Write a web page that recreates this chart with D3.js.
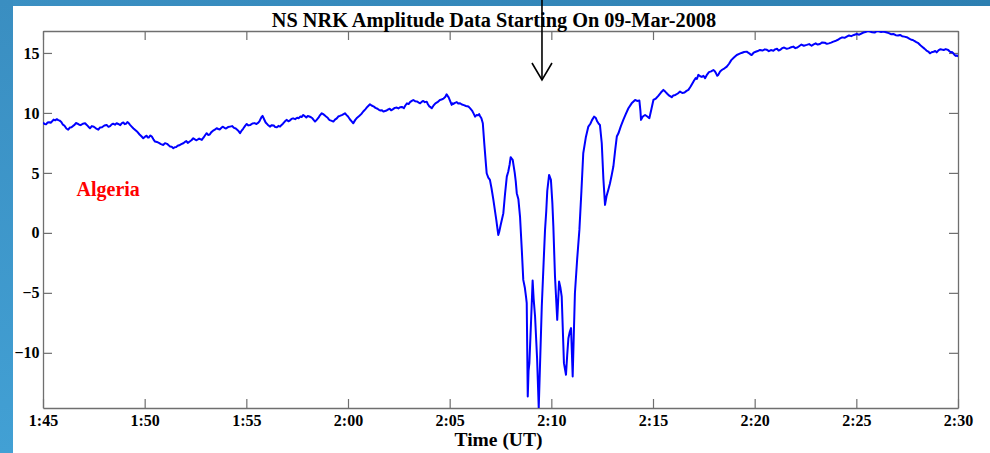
<!DOCTYPE html>
<html>
<head>
<meta charset="utf-8">
<script src="https://cdn.jsdelivr.net/npm/d3@7"></script>
<style>
  html, body { margin: 0; padding: 0; background: #ffffff; }
  svg { display: block; }
</style>
</head>
<body>
<svg id="chart" width="990" height="453"></svg>
<script>
// NS NRK amplitude record, 09-Mar-2008, 01:45 - 02:30 UT
const titleText = "NS NRK Amplitude Data Starting On 09-Mar-2008";
const stationLabel = "Algeria";
const xAxisTitle = "Time (UT)";
const startTime = "2008-03-09T01:45:00Z";
const spanMinutes = 45;
const yTicks = [-10, -5, 0, 5, 10, 15];
const yRange = [-14.6, 16.83];
const arrowMinute = 24.54;   // event marker, minutes after start

// minutes after 01:45 UT
const offsetMinutes = [
  0.00, 0.08, 0.15, 0.22, 0.30, 0.38, 0.45, 0.52, 0.60, 0.68,
  0.75, 0.82, 0.90, 0.98, 1.05, 1.15, 1.24, 1.32, 1.40, 1.48,
  1.55, 1.62, 1.70, 1.78, 1.85, 1.96, 2.07, 2.14, 2.20, 2.26,
  2.31, 2.40, 2.50, 2.60, 2.72, 2.80, 2.90, 3.02, 3.13, 3.22,
  3.30, 3.38, 3.45, 3.54, 3.62, 3.70, 3.80, 3.88, 3.95, 4.02,
  4.10, 4.15, 4.20, 4.28, 4.36, 4.45, 4.55, 4.65, 4.75, 4.84,
  4.93, 5.02, 5.10, 5.15, 5.20, 5.28, 5.35, 5.43, 5.51, 5.60,
  5.70, 5.80, 5.92, 6.00, 6.10, 6.18, 6.25, 6.33, 6.41, 6.48,
  6.55, 6.62, 6.70, 6.80, 6.90, 6.98, 7.05, 7.12, 7.20, 7.30,
  7.39, 7.47, 7.55, 7.68, 7.81, 7.86, 7.90, 7.98, 8.05, 8.12,
  8.20, 8.28, 8.35, 8.45, 8.54, 8.62, 8.70, 8.78, 8.85, 8.92,
  9.00, 9.10, 9.20, 9.30, 9.40, 9.48, 9.55, 9.62, 9.69, 9.78,
  9.85, 9.94, 10.02, 10.10, 10.20, 10.30, 10.40, 10.50, 10.59, 10.65,
  10.70, 10.75, 10.80, 10.88, 10.95, 11.05, 11.16, 11.25, 11.35, 11.42,
  11.50, 11.58, 11.66, 11.72, 11.80, 11.90, 11.99, 12.07, 12.15, 12.22,
  12.30, 12.40, 12.50, 12.58, 12.65, 12.72, 12.80, 12.88, 12.95, 13.02,
  13.10, 13.18, 13.25, 13.32, 13.38, 13.46, 13.55, 13.62, 13.71, 13.78,
  13.85, 13.92, 14.00, 14.05, 14.10, 14.20, 14.28, 14.36, 14.45, 14.52,
  14.60, 14.72, 14.85, 14.92, 15.00, 15.05, 15.10, 15.18, 15.26, 15.35,
  15.45, 15.55, 15.65, 15.75, 15.85, 15.96, 16.08, 16.16, 16.25, 16.35,
  16.45, 16.52, 16.60, 16.67, 16.74, 16.82, 16.90, 16.98, 17.05, 17.12,
  17.20, 17.30, 17.40, 17.48, 17.56, 17.65, 17.75, 17.82, 17.90, 17.98,
  18.05, 18.12, 18.21, 18.30, 18.40, 18.48, 18.55, 18.62, 18.70, 18.78,
  18.87, 18.93, 19.00, 19.06, 19.12, 19.20, 19.30, 19.40, 19.52, 19.60,
  19.70, 19.78, 19.85, 19.90, 19.95, 20.02, 20.10, 20.14, 20.18, 20.26,
  20.35, 20.42, 20.51, 20.60, 20.70, 20.80, 20.92, 21.00, 21.10, 21.18,
  21.25, 21.32, 21.40, 21.45, 21.49, 21.56, 21.63,
  21.70, 21.78, 21.82, 21.90, 21.98, 22.06, 22.15, 22.30, 22.39, 22.44,
  22.50, 22.64, 22.72, 22.81, 22.88, 22.95, 23.00, 23.05, 23.10, 23.20,
  23.25, 23.30, 23.38, 23.46, 23.55, 23.62, 23.70, 23.76, 23.79, 23.84,
  23.88, 23.92, 24.00, 24.08, 24.13, 24.20, 24.30, 24.38, 24.53, 24.62,
  24.69, 24.75, 24.80, 24.89, 24.98, 25.05, 25.10, 25.18, 25.29, 25.38,
  25.45, 25.51, 25.62, 25.72, 25.78, 25.84, 25.90, 25.97, 26.05, 26.16,
  26.27, 26.38, 26.48, 26.57, 26.70, 26.82, 26.92, 27.00, 27.10, 27.18,
  27.26, 27.33, 27.39, 27.48, 27.56, 27.64, 27.72, 27.80, 27.88, 27.97,
  28.05, 28.14, 28.22, 28.30, 28.42, 28.54, 28.66, 28.79, 28.95,
  29.12, 29.22, 29.33, 29.38, 29.41, 29.50, 29.61, 29.72, 29.82, 29.92,
  30.02, 30.14, 30.25, 30.38, 30.51, 30.60, 30.70, 30.80, 30.92, 31.00,
  31.10, 31.22, 31.33, 31.44, 31.55, 31.65, 31.74, 31.85, 31.95, 32.02,
  32.10, 32.16, 32.23, 32.32, 32.40, 32.48, 32.56, 32.66, 32.75, 32.86,
  32.97, 33.04, 33.10, 33.16, 33.21, 33.30, 33.40, 33.52, 33.63, 33.74,
  33.85, 33.98, 34.12, 34.24, 34.35, 34.48, 34.61, 34.68, 34.75, 34.80,
  34.85, 34.95, 35.05, 35.15, 35.26, 35.38, 35.50, 35.60, 35.70, 35.80,
  35.92, 36.00, 36.10, 36.18, 36.25, 36.35, 36.45, 36.58, 36.70, 36.80,
  36.90, 37.00, 37.10, 37.20, 37.30, 37.42, 37.56, 37.68, 37.80, 37.90,
  38.00, 38.10, 38.21, 38.32, 38.45, 38.55, 38.65, 38.76, 38.87, 39.00,
  39.10, 39.20, 39.30, 39.42, 39.53, 39.64, 39.75, 39.88, 40.02, 40.14,
  40.25, 40.35, 40.45, 40.56, 40.67, 40.78, 40.90, 41.00, 41.10, 41.22,
  41.33, 41.46, 41.60, 41.70, 41.82, 41.94, 42.05, 42.15, 42.25, 42.36,
  42.48, 42.60, 42.70, 42.78, 42.85, 42.95, 43.05, 43.15, 43.25, 43.35,
  43.45, 43.54, 43.62, 43.70, 43.80, 43.88, 43.95, 44.04, 44.12, 44.20,
  44.30, 44.40, 44.52, 44.58, 44.65, 44.70, 44.77, 44.84, 44.90, 44.95,
  45.00
];

const amplitude = [
  9.19, 9.08, 9.05, 9.20, 9.22, 9.18, 9.30, 9.44, 9.38, 9.48,
  9.40, 9.36, 9.25, 9.02, 8.95, 8.70, 8.60, 8.78, 8.80, 8.92,
  9.00, 9.16, 9.10, 9.02, 8.98, 9.10, 9.14, 9.02, 8.92, 8.80,
  8.72, 8.90, 8.85, 8.72, 8.60, 8.78, 8.80, 8.95, 9.00, 8.84,
  8.90, 9.05, 9.10, 9.02, 9.14, 9.08, 8.98, 9.15, 9.20, 9.06,
  9.12, 9.24, 9.18, 9.00, 8.86, 8.70, 8.55, 8.40, 8.20, 8.05,
  7.89, 8.02, 8.10, 7.96, 7.95, 8.12, 8.03, 7.80, 7.61, 7.58,
  7.50, 7.40, 7.33, 7.48, 7.42, 7.30, 7.20, 7.18, 7.06, 7.14,
  7.15, 7.26, 7.30, 7.40, 7.47, 7.58, 7.65, 7.50, 7.60, 7.72,
  7.89, 7.80, 7.72, 7.86, 7.75, 7.88, 7.95, 8.16, 8.31, 8.16,
  8.20, 8.40, 8.50, 8.60, 8.72, 8.66, 8.62, 8.78, 8.85, 8.76,
  8.70, 8.82, 8.86, 8.90, 8.75, 8.70, 8.60, 8.48, 8.31, 8.55,
  8.70, 8.92, 9.08, 8.96, 9.00, 9.12, 9.15, 9.08, 9.19, 9.32,
  9.50, 9.66, 9.75, 9.45, 9.20, 9.02, 8.86, 8.98, 8.95, 8.82,
  8.80, 8.92, 8.86, 8.98, 9.10, 9.30, 9.42, 9.30, 9.38, 9.50,
  9.55, 9.48, 9.60, 9.56, 9.70, 9.66, 9.83, 9.72, 9.62, 9.74,
  9.70, 9.64, 9.55, 9.40, 9.28, 9.42, 9.60, 9.80, 9.97, 9.90,
  9.80, 9.70, 9.60, 9.48, 9.40, 9.34, 9.28, 9.44, 9.55, 9.70,
  9.75, 9.84, 9.97, 9.84, 9.70, 9.58, 9.45, 9.30, 9.14, 9.40,
  9.60, 9.74, 9.90, 10.12, 10.30, 10.52, 10.72, 10.62, 10.55, 10.42,
  10.35, 10.26, 10.20, 10.22, 10.11, 10.16, 10.20, 10.30, 10.35, 10.22,
  10.30, 10.42, 10.45, 10.38, 10.47, 10.50, 10.40, 10.62, 10.80, 10.74,
  10.90, 10.98, 11.08, 10.98, 10.95, 10.86, 10.80, 10.92, 11.00, 10.90,
  10.94, 10.72, 10.55, 10.48, 10.39, 10.60, 10.80, 10.90, 11.08, 11.12,
  11.20, 11.32, 11.55, 11.42, 11.30, 11.00, 10.67, 10.80, 10.75, 10.84,
  10.90, 10.78, 10.81, 10.70, 10.65, 10.58, 10.53, 10.40, 10.20, 9.94,
  9.69, 9.82, 9.80, 9.90, 9.75, 9.55, 9.14,
  7.50, 5.80, 4.97, 4.60, 4.42, 3.70, 2.75, 1.00, -0.17, 0.10,
  0.60, 1.64, 3.20, 4.69, 5.10, 5.70, 6.31, 6.20, 6.08, 5.00,
  4.30, 3.31, 2.80, 1.36, -1.50, -3.92, -4.60, -5.40, -5.86, -13.64,
  -11.50, -10.86, -7.50, -3.97, -5.50, -6.97, -10.50, -14.60, -6.14, -2.50,
  0.25, 1.80, 3.50, 4.83, 4.42, 2.50, 0.50, -3.64, -7.25, -4.06,
  -4.60, -5.31, -10.86, -11.83, -10.20, -8.78, -8.30, -7.94, -11.97, -5.03,
  -2.20, 0.25, 3.50, 6.64, 8.00, 8.86, 9.10, 9.40, 9.69, 9.60,
  9.28, 9.10, 9.00, 7.47, 4.50, 2.33, 3.10, 3.58, 4.10, 4.83,
  5.53, 6.90, 8.03, 8.30, 8.90, 9.42, 9.90, 10.39, 10.80,
  11.08, 11.00, 11.03, 10.20, 9.42, 9.70, 9.83, 9.70, 9.56, 10.30,
  11.08, 11.20, 11.40, 11.68, 11.92, 11.78, 11.60, 11.44, 11.31, 11.46,
  11.50, 11.62, 11.78, 11.66, 11.70, 11.84, 11.92, 12.20, 12.50, 12.70,
  12.90, 12.84, 13.17, 13.06, 13.00, 13.10, 12.89, 13.20, 13.40, 13.46,
  13.58, 13.48, 13.30, 13.10, 13.17, 13.46, 13.60, 13.72, 13.86, 14.10,
  14.40, 14.62, 14.83, 14.92, 15.00, 15.08, 15.11, 15.02, 14.95, 14.86,
  14.83, 15.02, 15.10, 15.16, 15.25, 15.20, 15.30, 15.26, 15.15, 15.24,
  15.19, 15.30, 15.35, 15.20, 15.25, 15.40, 15.45, 15.34, 15.40, 15.48,
  15.53, 15.40, 15.45, 15.58, 15.70, 15.60, 15.67, 15.74, 15.60, 15.72,
  15.80, 15.70, 15.75, 15.88, 15.85, 15.76, 15.80, 15.86, 15.94, 16.02,
  16.10, 16.22, 16.30, 16.26, 16.36, 16.46, 16.40, 16.50, 16.58, 16.52,
  16.62, 16.70, 16.75, 16.82, 16.78, 16.72, 16.70, 16.82, 16.80, 16.74,
  16.78, 16.72, 16.65, 16.56, 16.58, 16.48, 16.45, 16.50, 16.40, 16.36,
  16.31, 16.20, 16.10, 16.08, 16.00, 15.90, 15.81, 15.64, 15.50, 15.36,
  15.20, 15.12, 14.97, 15.06, 15.10, 15.16, 15.05, 15.22, 15.31, 15.28,
  15.25, 15.32, 15.25, 15.14, 15.05, 15.08, 14.97, 14.82, 14.75, 14.80,
  14.69
];

const W = 990, H = 453;
const plot = { left: 43, right: 958, top: 31, bottom: 408 };
const serif = "'Liberation Serif', 'Times New Roman', Times, serif";

const svg = d3.select("#chart");

// page frame: blue bands along the top and left edges
const defs = svg.append("defs");
const gTop = defs.append("linearGradient").attr("id", "bandTop")
  .attr("x1", 0).attr("y1", 0).attr("x2", 1).attr("y2", 0);
gTop.append("stop").attr("offset", 0).attr("stop-color", "#3b90c3");
gTop.append("stop").attr("offset", 1).attr("stop-color", "#2d7fb1");
const gLeft = defs.append("linearGradient").attr("id", "bandLeft")
  .attr("x1", 0).attr("y1", 0).attr("x2", 0).attr("y2", 1);
gLeft.append("stop").attr("offset", 0).attr("stop-color", "#3a8ec1");
gLeft.append("stop").attr("offset", 1).attr("stop-color", "#42a0d4");
defs.append("clipPath").attr("id", "plotClip").append("rect")
  .attr("x", plot.left).attr("y", plot.top)
  .attr("width", plot.right - plot.left).attr("height", plot.bottom - plot.top);

svg.append("rect").attr("width", W).attr("height", H).attr("fill", "#ffffff");
svg.append("rect").attr("x", 0).attr("y", 0).attr("width", W).attr("height", 6)
  .attr("fill", "url(#bandTop)");
svg.append("rect").attr("x", 0).attr("y", 0).attr("width", 13).attr("height", H)
  .attr("fill", "url(#bandLeft)");

// scales
const t0 = new Date(startTime);
const toDate = m => new Date(t0.getTime() + m * 60000);
const x = d3.scaleUtc()
  .domain([t0, toDate(spanMinutes)])
  .range([plot.left, plot.right]);
const y = d3.scaleLinear().domain(yRange).range([plot.bottom, plot.top]);

const data = offsetMinutes.map((m, i) => ({ t: toDate(m), v: amplitude[i] }));

// axes with inward ticks, mirrored on the top and right
const axisColor = "#6f6f6f";
const tickLen = 9;
const xTicks = d3.utcMinute.every(5).range(t0, toDate(spanMinutes + 0.01));
const fmt = d3.utcFormat("%-H:%M");

function styleAxis(g) {
  g.select(".domain").attr("stroke", axisColor).attr("stroke-width", 1.3);
  g.selectAll(".tick line").attr("stroke", axisColor).attr("stroke-width", 1.2);
  g.selectAll("text").attr("fill", "#000").attr("font-family", serif)
    .attr("font-weight", "bold").attr("font-size", 16);
}

const xBottom = svg.append("g").attr("transform", `translate(0,${plot.bottom})`)
  .call(d3.axisBottom(x).tickValues(xTicks).tickFormat(fmt)
    .tickSizeInner(-tickLen).tickSizeOuter(0).tickPadding(7));
styleAxis(xBottom);
xBottom.selectAll("text").attr("dy", "0.71em");

const xTop = svg.append("g").attr("transform", `translate(0,${plot.top})`)
  .call(d3.axisTop(x).tickValues(xTicks).tickFormat("")
    .tickSizeInner(-tickLen).tickSizeOuter(0));
styleAxis(xTop);

const yLeft = svg.append("g").attr("transform", `translate(${plot.left},0)`)
  .call(d3.axisLeft(y).tickValues(yTicks).tickFormat(d3.format("d"))
    .tickSizeInner(-tickLen).tickSizeOuter(0).tickPadding(3.5));
styleAxis(yLeft);

const yRight = svg.append("g").attr("transform", `translate(${plot.right},0)`)
  .call(d3.axisRight(y).tickValues(yTicks).tickFormat("")
    .tickSizeInner(-tickLen).tickSizeOuter(0));
styleAxis(yRight);

// amplitude trace
const line = d3.line().x(d => x(d.t)).y(d => y(d.v));
svg.append("path")
  .datum(data)
  .attr("clip-path", "url(#plotClip)")
  .attr("fill", "none")
  .attr("stroke", "#0000ff")
  .attr("stroke-width", 2)
  .attr("stroke-linejoin", "round")
  .attr("d", line);

// titles and station label
svg.append("text")
  .attr("x", 494).attr("y", 27)
  .attr("text-anchor", "middle")
  .attr("font-family", serif).attr("font-weight", "bold").attr("font-size", 20.3)
  .attr("fill", "#000")
  .text(titleText);

svg.append("text")
  .attr("x", (plot.left + plot.right) / 2 - 2).attr("y", 446)
  .attr("text-anchor", "middle")
  .attr("font-family", serif).attr("font-weight", "bold").attr("font-size", 19.5)
  .attr("fill", "#000")
  .text(xAxisTitle);

svg.append("text")
  .attr("x", 76.5).attr("y", 195.5)
  .attr("font-family", serif).attr("font-weight", "bold").attr("font-size", 20)
  .attr("fill", "#ff0000")
  .text(stationLabel);

// event marker arrow from the top edge
const ax = x(toDate(arrowMinute));
const arrow = svg.append("g").attr("stroke", "#000").attr("stroke-width", 1.6).attr("fill", "none");
arrow.append("line").attr("x1", ax).attr("x2", ax).attr("y1", 0).attr("y2", 80);
arrow.append("path").attr("d", `M${ax - 10},${63} L${ax},${80} L${ax + 10},${63}`);
</script>
</body>
</html>
